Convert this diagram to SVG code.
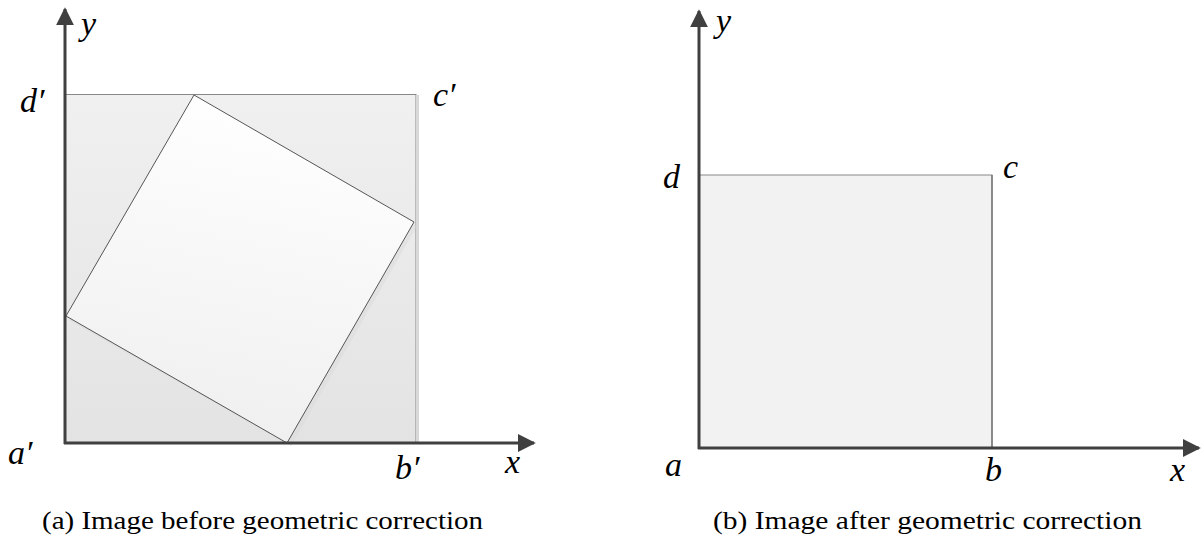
<svg xmlns="http://www.w3.org/2000/svg" width="1201" height="539" viewBox="0 0 1201 539">
  <style>
    .axis { stroke: #404040; stroke-width: 3; fill: none; }
    .edge { stroke: #444; stroke-width: 0.9; }
    .lbl { font-family: "Liberation Serif", "Times New Roman", serif; font-style: italic; font-size: 34px; fill: #000; }
    .cap { font-family: "Liberation Serif", "Times New Roman", serif; font-size: 26px; fill: #000; }
  </style>
  <defs>
    <linearGradient id="bgA" x1="0" y1="0" x2="0" y2="1">
      <stop offset="0" stop-color="#f0f0f0"/>
      <stop offset="1" stop-color="#e3e3e3"/>
    </linearGradient>
    <linearGradient id="sq" x1="0.6" y1="0" x2="0.4" y2="1">
      <stop offset="0" stop-color="#ffffff"/>
      <stop offset="1" stop-color="#efefef"/>
    </linearGradient>
    <marker id="arr" viewBox="0 0 10 10" refX="9" refY="5" markerWidth="6" markerHeight="6" markerUnits="strokeWidth" orient="auto">
      <path d="M0,0 L10,5 L0,10 z" fill="#404040"/>
    </marker>
  </defs>

  <g id="panel-a">
    <g id="frame-a">
      <rect x="65" y="94.5" width="351" height="349" fill="url(#bgA)" stroke="#888" stroke-width="1"/>
      <rect x="416" y="95" width="3" height="348" fill="#d8d8d8"/>
    </g>
    <g id="rotated-square">
      <polygon points="196,99 417,226 291,446 69,320" fill="#dadada" opacity="0.45"/>
      <polygon points="194,95 414,222 287,443 66,316" fill="url(#sq)" class="edge"/>
    </g>
  </g>

  <g id="panel-b">
    <g id="rect-b">
      <rect x="699" y="175" width="293" height="273" fill="#f2f2f2" stroke="#888" stroke-width="1"/>
      <line x1="992" y1="175" x2="992" y2="448" stroke="#555" stroke-width="1"/>
    </g>
  </g>

  <g id="connectors">
    <line class="axis" x1="65" y1="444" x2="65" y2="9" marker-end="url(#arr)"/>
    <line class="axis" x1="64" y1="443" x2="534" y2="443" marker-end="url(#arr)"/>
    <line class="axis" x1="699" y1="449" x2="699" y2="11" marker-end="url(#arr)"/>
    <line class="axis" x1="698" y1="448" x2="1199" y2="448" marker-end="url(#arr)"/>
  </g>

  <g id="labels-a">
    <text class="lbl" x="81" y="35">y</text>
    <text class="lbl" x="20" y="112">d′</text>
    <text class="lbl" x="433" y="106">c′</text>
    <text class="lbl" x="8" y="464">a′</text>
    <text class="lbl" x="395" y="479">b′</text>
    <text class="lbl" x="505" y="473">x</text>
  </g>
  <g id="labels-b">
    <text class="lbl" x="716" y="32">y</text>
    <text class="lbl" x="663" y="188">d</text>
    <text class="lbl" x="1003" y="178">c</text>
    <text class="lbl" x="665" y="476">a</text>
    <text class="lbl" x="985" y="481">b</text>
    <text class="lbl" x="1170" y="481">x</text>
  </g>

  <g id="captions">
    <text class="cap" x="42" y="529" textLength="441" lengthAdjust="spacingAndGlyphs">(a) Image before geometric correction</text>
    <text class="cap" x="713" y="529" textLength="429" lengthAdjust="spacingAndGlyphs">(b) Image after geometric correction</text>
  </g>
</svg>
